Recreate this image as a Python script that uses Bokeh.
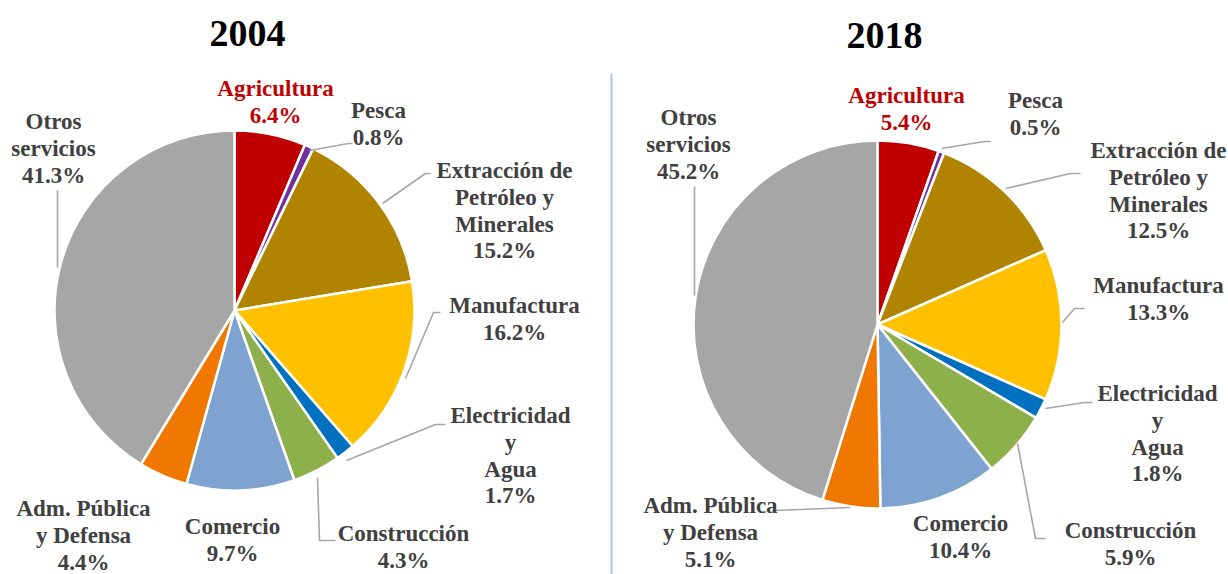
import math
from bokeh.plotting import figure
from bokeh.models import Range1d
from bokeh.core.properties import value
from bokeh.embed import file_html
from bokeh.resources import INLINE

# ---------------- data ----------------
sectors = ["Agricultura", "Pesca", "Extracción de Petróleo y Minerales", "Manufactura",
           "Electricidad y Agua", "Construcción", "Comercio", "Adm. Pública y Defensa",
           "Otros servicios"]
label_lines = [["Agricultura"], ["Pesca"], ["Extracción de", "Petróleo y", "Minerales"],
               ["Manufactura"], ["Electricidad", "y", "Agua"], ["Construcción"],
               ["Comercio"], ["Adm. Pública", "y Defensa"], ["Otros", "servicios"]]
share_2004 = [6.4, 0.8, 15.2, 16.2, 1.7, 4.3, 9.7, 4.4, 41.3]
share_2018 = [5.4, 0.5, 12.5, 13.3, 1.8, 5.9, 10.4, 5.1, 45.2]
years = ["2004", "2018"]
colors = ["#C00000", "#7030A0", "#B08400", "#FFC000", "#0070C0",
          "#8DB04B", "#7EA3D0", "#F07800", "#A6A6A6"]

# ---------------- layout (screen px) ----------------
W, H = 1228, 574
def sy(y):
    return H - y

pies = [
    dict(cx=234, cy=310, r=180, title=(247, 33),
         labels=[(275, 88), (378, 110), (504, 170), (514, 305), (510, 415),
                 (403, 533), (232, 526), (83, 508), (53, 121)],
         leaders=[None,
                  [(309, 150), (348, 143), (352, 143)],
                  [(382, 203), (425, 173), (430, 173)],
                  [(405, 378), (433, 312), (440, 312)],
                  [(346, 460), (435, 424), (445, 424)],
                  [(317, 477), (319, 540), (335, 540)],
                  None, None,
                  [(57, 190), (57, 267)]]),
    dict(cx=877, cy=324, r=184, title=(884, 35),
         labels=[(906, 95), (1035, 100), (1158, 150), (1158, 285), (1157, 393),
                 (1130, 530), (960, 523), (710, 505), (688, 117)],
         leaders=[None,
                  [(941, 148), (984, 141), (990, 141)],
                  [(1005, 188), (1070, 173), (1080, 173)],
                  [(1062, 322), (1074, 308), (1084, 308)],
                  [(1045, 408), (1084, 402), (1092, 402)],
                  [(1017, 443), (1035, 538), (1045, 538)],
                  None,
                  [(850, 507), (774, 510)],
                  [(694, 186), (694, 295)]]),
]
LINE = 26.8
FONT = value("Liberation Serif")

p = figure(width=W, height=H, output_backend="svg", toolbar_location=None,
           x_range=Range1d(0, W), y_range=Range1d(0, H),
           min_border=0, min_border_left=0, min_border_right=0,
           min_border_top=0, min_border_bottom=0)
p.axis.visible = False
p.grid.visible = False
p.outline_line_color = None
p.background_fill_color = "white"

# divider
p.line(x=[611, 611], y=[sy(73), sy(574)], line_color="#A9C4EB", line_width=2)

for year, shares, cfg in zip(years, [share_2004, share_2018], pies):
    total = sum(shares)
    cum = 0.0
    starts, ends = [], []
    for v in shares:
        a0 = math.pi / 2 - 2 * math.pi * cum / total
        cum += v
        a1 = math.pi / 2 - 2 * math.pi * cum / total
        starts.append(a0)
        ends.append(a1)
    p.wedge(x=[cfg["cx"]] * len(shares), y=[sy(cfg["cy"])] * len(shares), radius=cfg["r"],
            start_angle=starts, end_angle=ends, direction="clock",
            fill_color=colors, line_color="white", line_width=2.5)

    for pts in cfg["leaders"]:
        if pts:
            p.line(x=[q[0] for q in pts], y=[sy(q[1]) for q in pts],
                   line_color="#A6A6A6", line_width=1.6)

    xs, ys, ts, cs = [], [], [], []
    for i, (lx, ly) in enumerate(cfg["labels"]):
        lines = label_lines[i] + [f"{shares[i]:.1f}%"]
        for k, t in enumerate(lines):
            xs.append(lx)
            ys.append(sy(ly + k * LINE))
            ts.append(t)
            cs.append("#C00000" if i == 0 else "#404040")
    p.text(x=xs, y=ys, text=ts, text_color=cs, text_font=FONT, text_font_style="bold",
           text_font_size="23px", text_align="center", text_baseline="middle")

    tx, ty = cfg["title"]
    p.text(x=[tx], y=[sy(ty)], text=[year], text_color="black", text_font=FONT,
           text_font_style="bold", text_font_size="38px", text_align="center",
           text_baseline="middle")

open("out.html", "w").write(file_html(p, INLINE))
